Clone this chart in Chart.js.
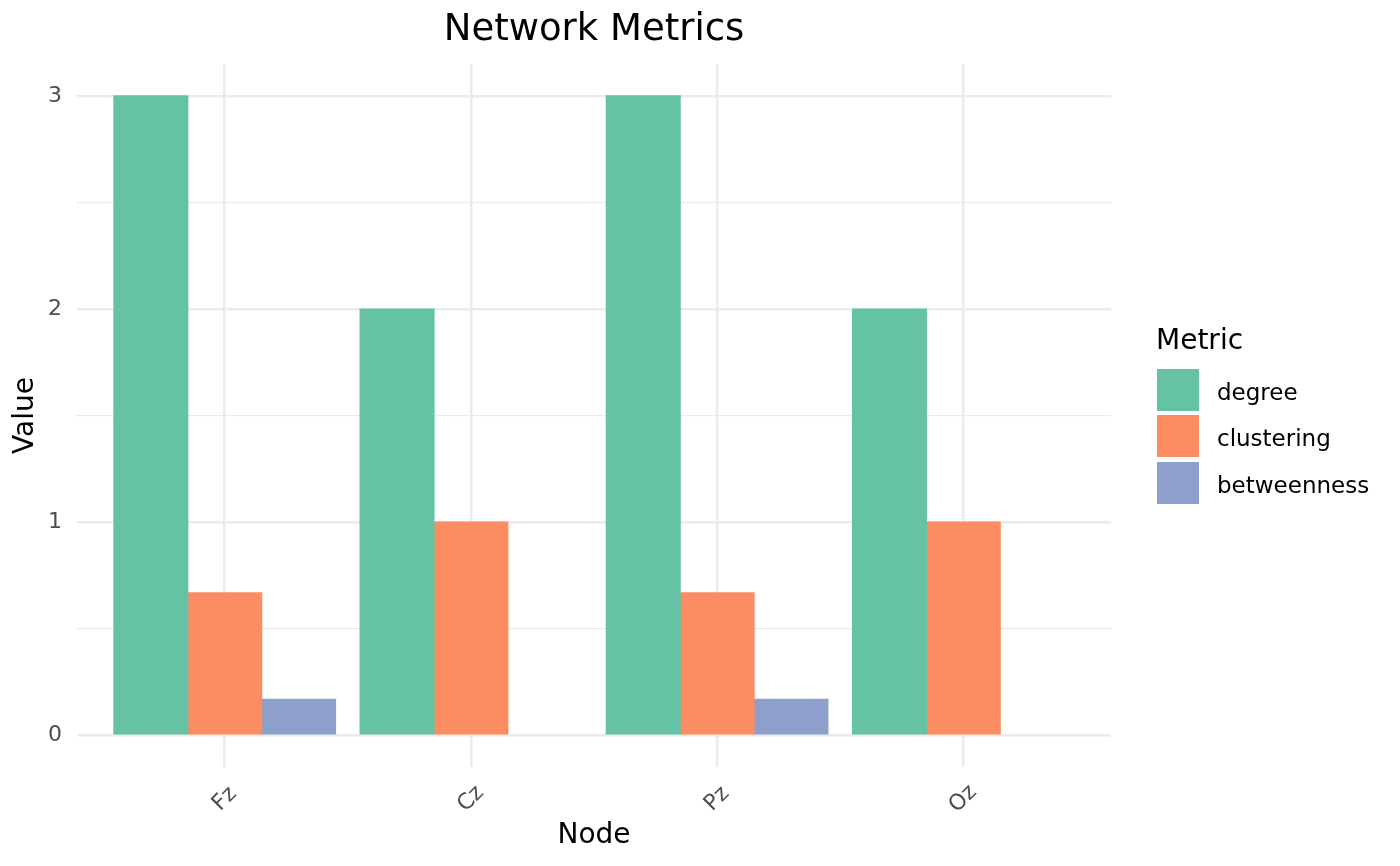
<!DOCTYPE html>
<html>
<head>
<meta charset="utf-8">
<script src="https://cdn.jsdelivr.net/npm/chart.js@4.4.1/dist/chart.umd.min.js"></script>
<style>
  body { margin: 0; background: #fff; font-family: "DejaVu Sans", sans-serif; }
  #wrap { position: relative; width: 1400px; height: 866px; }
  #legend { position: absolute; left: 0; top: 0; }
  .leg-title { position: absolute; left: 1156px; top: 326px; font-size: 28px; line-height: 28px; color: #000; white-space: nowrap; }
  .leg-key { position: absolute; left: 1157px; width: 42px; height: 42px; }
  .leg-label { position: absolute; left: 1217px; height: 42px; line-height: 42px; padding-top: 2px; font-size: 23px; color: #000; white-space: nowrap; }
</style>
</head>
<body>
<div id="wrap">
  <canvas id="metricsChart" width="1400" height="866"></canvas>
  <div id="legend"></div>
</div>
<script>
const nodes = ['Fz', 'Cz', 'Pz', 'Oz'];
const metrics = ['degree', 'clustering', 'betweenness'];
const degree = [3, 2, 3, 2];
const clustering = [0.667, 1, 0.667, 1];
const betweenness = [0.167, 0, 0.167, 0];
const colores = ['#66C2A5', '#FC8D62', '#8DA0CB'];
const yTicks = [0, 0.5, 1, 1.5, 2, 2.5, 3];

const series = [degree, clustering, betweenness];
const fuente = '"DejaVu Sans", sans-serif';

// etiquetas del eje x giradas 45 grados, centradas en cada marca
const etiquetasX = {
    id: 'etiquetasX',
    afterDraw(chart) {
        const ctx = chart.ctx;
        const xs = chart.scales.x;
        ctx.save();
        ctx.fillStyle = '#4D4D4D';
        ctx.font = '22px ' + fuente;
        ctx.textAlign = 'center';
        ctx.textBaseline = 'middle';
        nodes.forEach((n, i) => {
            ctx.save();
            ctx.translate(xs.getPixelForValue(i), 799);
            ctx.rotate(-Math.PI / 4);
            ctx.fillText(n, 0, 0);
            ctx.restore();
        });
        ctx.restore();
    }
};

const ctx = document.getElementById('metricsChart').getContext('2d');

const chart = new Chart(ctx, {
    type: 'bar',
    data: {
        datasets: metrics.map((m, k) => ({
            label: m,
            data: series[k].map((v, i) => ({ x: i, y: v })),
            backgroundColor: colores[k],
            borderWidth: 0,
            // sin costuras blancas entre barras, y nada para los ceros
            inflateAmount: (c) => (c.raw && c.raw.y > 0) ? 0.6 : 0,
            categoryPercentage: 0.9,
            barPercentage: 1.0
        }))
    },
    options: {
        responsive: false,
        animation: false,
        devicePixelRatio: 1,
        layout: { padding: { left: 0, right: 289, top: 0, bottom: 0 } },
        plugins: {
            legend: { display: false },
            tooltip: { enabled: false },
            title: {
                display: true,
                fullSize: false,
                text: 'Network Metrics',
                color: '#000',
                font: { family: fuente, size: 37, weight: 'normal' },
                padding: { top: 8, bottom: 11.6 }
            }
        },
        scales: {
            x: {
                type: 'linear',
                min: -0.6,
                max: 3.6,
                offset: false,
                afterBuildTicks: (s) => { s.ticks = nodes.map((n, i) => ({ value: i })); },
                afterFit: (s) => { s.height = 99; },
                ticks: { display: false },
                grid: { color: '#EBEBEB', lineWidth: 2.5, drawTicks: false, offset: false },
                border: { display: false },
                title: {
                    display: true,
                    text: 'Node',
                    color: '#000',
                    font: { family: fuente, size: 28 },
                    padding: { top: 0, bottom: 13 }
                }
            },
            y: {
                min: -0.15,
                max: 3.15,
                afterBuildTicks: (s) => { s.ticks = yTicks.map(v => ({ value: v })); },
                afterFit: (s) => { s.width = 77; },
                ticks: {
                    color: '#4D4D4D',
                    font: { family: fuente, size: 22 },
                    padding: 15,
                    callback: (v) => Number.isInteger(v) ? String(v) : ''
                },
                grid: {
                    color: '#EBEBEB',
                    lineWidth: (c) => (c.tick && Number.isInteger(c.tick.value)) ? 2.5 : 1.2,
                    drawTicks: false
                },
                border: { display: false },
                title: {
                    display: true,
                    text: 'Value',
                    color: '#000',
                    font: { family: fuente, size: 28 },
                    padding: { top: 9, bottom: 0 }
                }
            }
        }
    },
    plugins: [etiquetasX]
});

// leyenda a la derecha, como en el original
const leyenda = document.getElementById('legend');
let html = '<div class="leg-title">Metric</div>';
const topes = [369, 415, 462];
metrics.forEach((m, k) => {
    html += '<div class="leg-key" style="top:' + topes[k] + 'px;background:' + colores[k] + '"></div>';
    html += '<div class="leg-label" style="top:' + topes[k] + 'px">' + m + '</div>';
});
leyenda.innerHTML = html;
</script>
</body>
</html>
